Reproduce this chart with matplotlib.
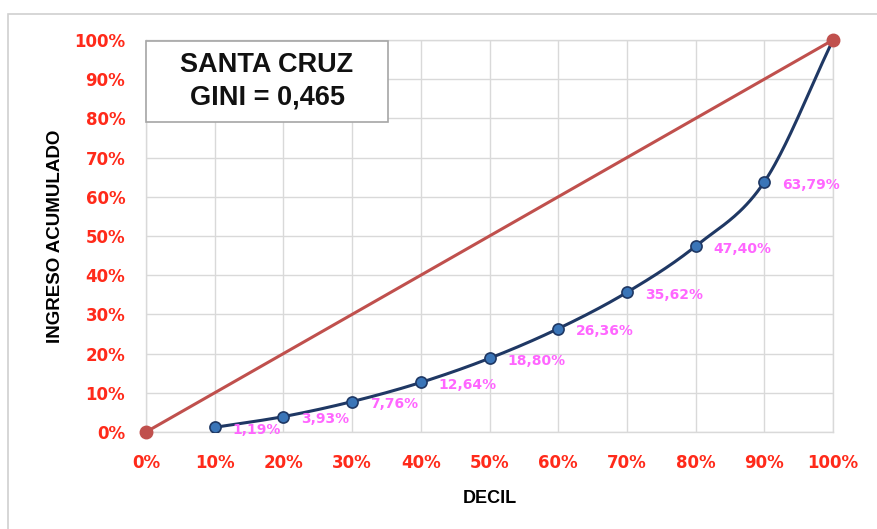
import numpy as np
import matplotlib
matplotlib.use("Agg")
import matplotlib.pyplot as plt
from matplotlib.patches import Rectangle
from matplotlib.ticker import FixedLocator

# ---- data ----
decil = [0.1, 0.2, 0.3, 0.4, 0.5, 0.6, 0.7, 0.8, 0.9, 1.0]
ingreso = [0.0119, 0.0393, 0.0776, 0.1264, 0.1880, 0.2636, 0.3562, 0.4740, 0.6379, 1.0]
labels = ["1,19%", "3,93%", "7,76%", "12,64%", "18,80%", "26,36%", "35,62%", "47,40%", "63,79%"]
igualdad_x = [0.0, 1.0]
igualdad_y = [0.0, 1.0]
tick_vals = [0.0, 0.1, 0.2, 0.3, 0.4, 0.5, 0.6, 0.7, 0.8, 0.9, 1.0]
tick_labels = ["0%", "10%", "20%", "30%", "40%", "50%", "60%", "70%", "80%", "90%", "100%"]
title_text = "SANTA CRUZ\nGINI = 0,465"

W, H = 877, 529
fig = plt.figure(figsize=(W / 100, H / 100), dpi=100)
fig.patch.set_facecolor("white")

# outer chart frame
fig.patches.append(Rectangle((8 / W, -0.05), 1.2, 1 - 14 / H + 0.05, transform=fig.transFigure,
                             fill=False, edgecolor="#D0D0D0", linewidth=1.2, zorder=0))

ax = fig.add_axes([146 / W, 1 - 432 / H, (833 - 146) / W, (432 - 40) / H])
ax.set_xlim(0, 1)
ax.set_ylim(0, 1)


def smooth(xs, ys, n=40):
    xs = np.asarray(xs, float)
    ys = np.asarray(ys, float)
    px = np.concatenate([[2 * xs[0] - xs[1]], xs, [2 * xs[-1] - xs[-2]]])
    py = np.concatenate([[2 * ys[0] - ys[1]], ys, [2 * ys[-1] - ys[-2]]])
    ox, oy = [], []
    t = np.linspace(0, 1, n)
    for i in range(1, len(px) - 2):
        p0x, p1x, p2x, p3x = px[i - 1:i + 3]
        p0y, p1y, p2y, p3y = py[i - 1:i + 3]
        c1x = p1x + (p2x - p0x) / 6
        c1y = p1y + (p2y - p0y) / 6
        c2x = p2x - (p3x - p1x) / 6
        c2y = p2y - (p3y - p1y) / 6
        bx = (1 - t) ** 3 * p1x + 3 * (1 - t) ** 2 * t * c1x + 3 * (1 - t) * t ** 2 * c2x + t ** 3 * p2x
        by = (1 - t) ** 3 * p1y + 3 * (1 - t) ** 2 * t * c1y + 3 * (1 - t) * t ** 2 * c2y + t ** 3 * p2y
        ox.extend(bx)
        oy.extend(by)
    return np.array(ox), np.array(oy)


ax.set_axisbelow(True)
ax.grid(True, color="#D9D9D9", linewidth=1.0)
ax.xaxis.set_major_locator(FixedLocator(tick_vals))
ax.yaxis.set_major_locator(FixedLocator(tick_vals))
ax.set_xticklabels(tick_labels)
ax.set_yticklabels(tick_labels)
ax.tick_params(length=0, labelsize=12, labelcolor="#FF2A1A")
ax.tick_params(axis="x", pad=16)
ax.tick_params(axis="y", pad=15)
for lab in ax.get_xticklabels() + ax.get_yticklabels():
    lab.set_fontweight("bold")
for s in ax.spines.values():
    s.set_color("#D9D9D9")
    s.set_linewidth(1.0)

# equality line
ax.plot(igualdad_x, igualdad_y, color="#C0504D", linewidth=2.2, marker="o", markersize=9,
        markerfacecolor="#C0504D", markeredgecolor="#C0504D", zorder=4, clip_on=False)

# Lorenz curve
sx, sy = smooth(decil, ingreso)
ax.plot(sx, sy, color="#1F3864", linewidth=2.2, zorder=3, clip_on=False)
ax.plot(decil[:-1], ingreso[:-1], linestyle="none", marker="o", markersize=8,
        markerfacecolor="#3A75B8", markeredgecolor="#1F3864", markeredgewidth=1.2, zorder=5)

for x, y, t in zip(decil, ingreso, labels):
    ax.annotate(t, (x, y), xytext=(13, -2), textcoords="offset points", ha="left", va="center",
                fontsize=10, fontweight="bold", color="#FF66FF", zorder=6)

# title box
ax.add_patch(Rectangle((0.0, (432 - 122) / 392), (388 - 146) / 687, (122 - 41) / 392,
                       transform=ax.transAxes, facecolor="white", edgecolor="#A6A6A6",
                       linewidth=1.2, zorder=7, clip_on=False))
ax.text((267 - 146) / 687, (432 - 81) / 392, title_text, transform=ax.transAxes,
        ha="center", va="center", fontsize=19.5, fontweight="bold", family="Liberation Sans",
        color="#111111", linespacing=1.3, zorder=8)

ax.set_xlabel("DECIL", fontsize=13, fontweight="bold", family="Liberation Sans", labelpad=13)
ax.set_ylabel("INGRESO ACUMULADO", fontsize=13.5, fontweight="bold", family="Liberation Sans",
              labelpad=7)

fig.savefig("out.png", dpi=100)
